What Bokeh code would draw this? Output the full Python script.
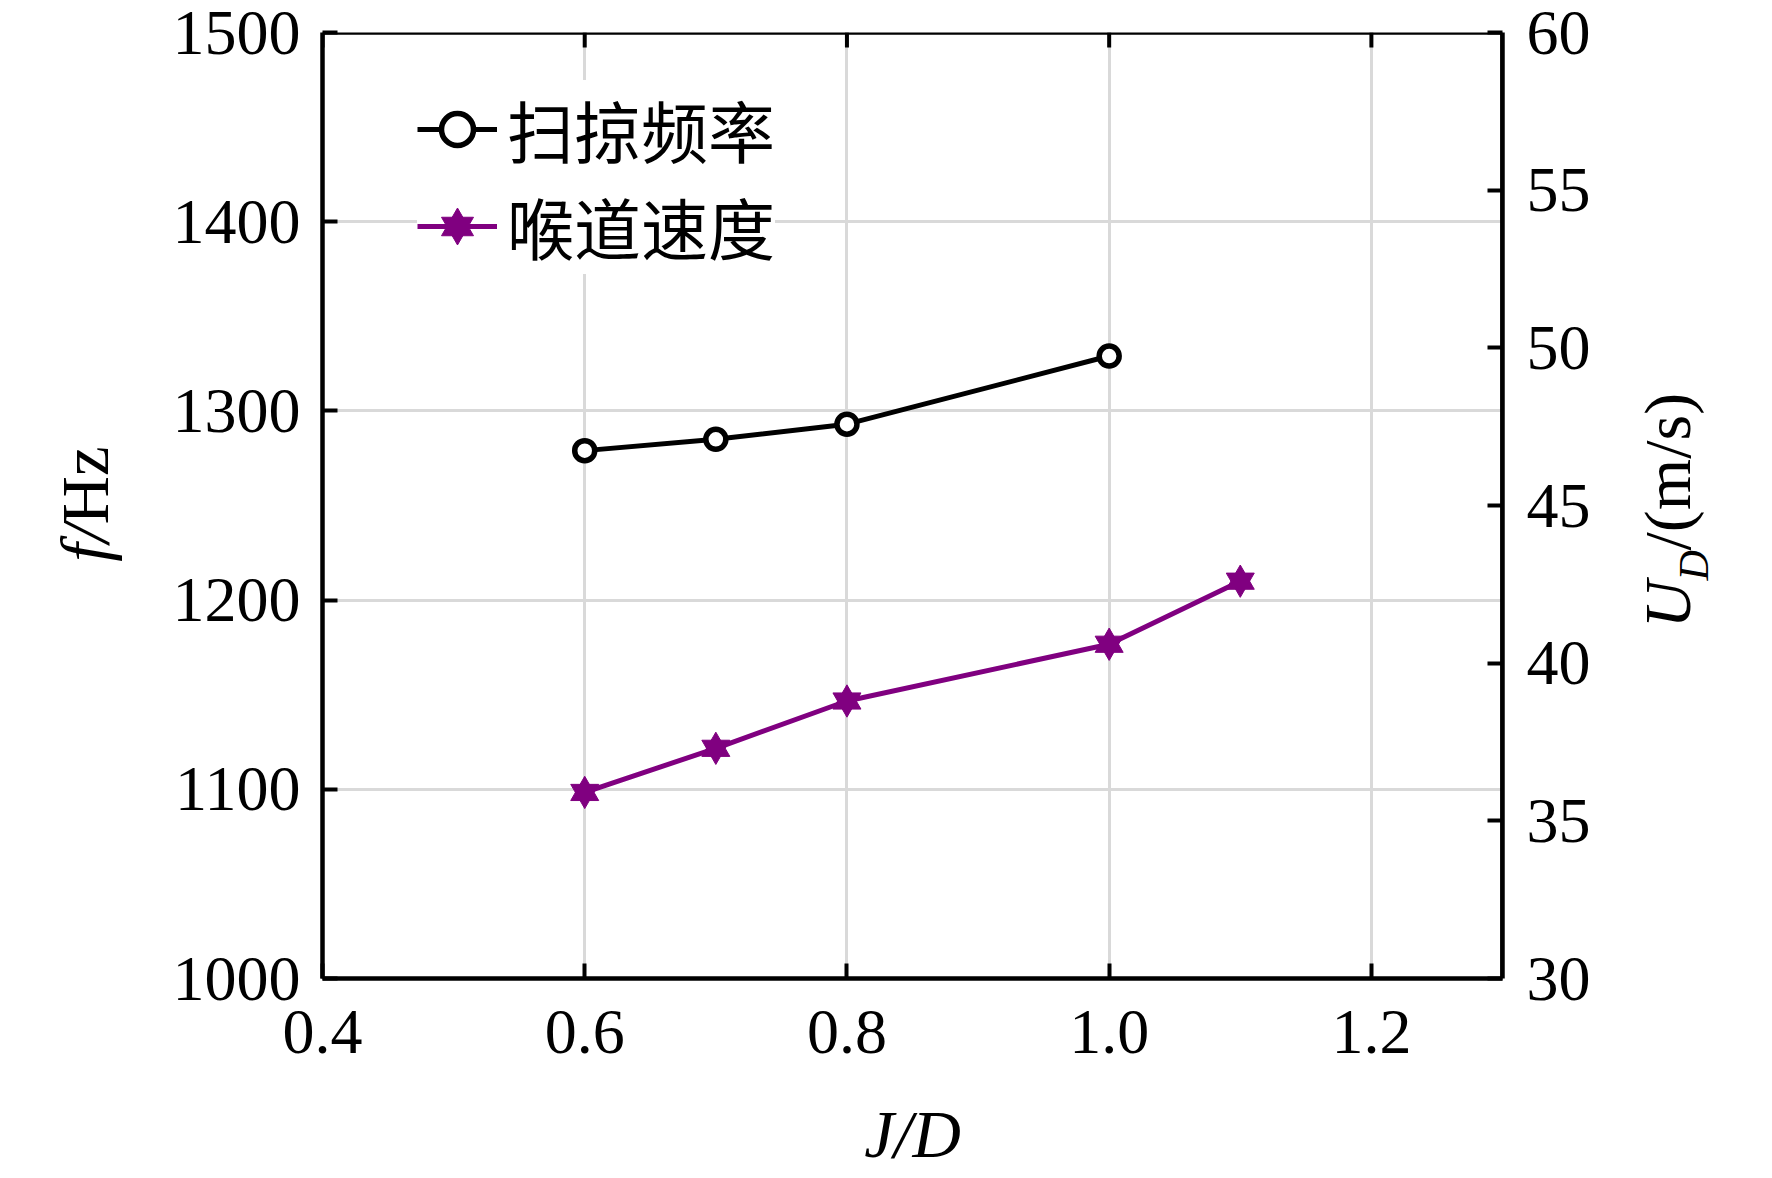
from math import pi
from bokeh.plotting import figure
from bokeh.models import (LinearAxis, Range1d, FixedTicker, Label, Legend, Grid,
                          LegendItem, NumeralTickFormatter)
from bokeh.embed import file_html
from bokeh.resources import INLINE
from bokeh.core.properties import value

# ---- data ----
jd_freq = [0.6, 0.7, 0.8, 1.0]
sweep_freq = [1279, 1285, 1293, 1329]
jd_vel = [0.6, 0.7, 0.8, 1.0, 1.1]
throat_vel = [35.9, 37.3, 38.8, 40.6, 42.6]
x_ticks = [0.4, 0.6, 0.8, 1.0, 1.2]
y_ticks = [1000, 1100, 1200, 1300, 1400, 1500]
y2_ticks = [30, 35, 40, 45, 50, 55, 60]
legend_labels = ["扫掠频率", "喉道速度"]

SERIF = "Liberation Serif"
CJK = "Noto Sans CJK SC"
PURPLE = "#800080"
GRID = "#d9d9d9"

X0, X1, Y0, Y1 = 0.4, 1.3, 1000, 1500
FW, FH = 1180, 946

p = figure(frame_width=FW, frame_height=FH,
           x_range=Range1d(X0, X1), y_range=Range1d(Y0, Y1),
           output_backend="svg", toolbar_location=None,
           min_border_left=322, min_border_right=262,
           min_border_top=32, min_border_bottom=190,
           x_axis_type=None, y_axis_type=None)
p.extra_y_ranges = {"vel": Range1d(30, 60)}
p.outline_line_color = None
p.background_fill_color = "white"
p.border_fill_color = "white"


def style_axis(ax, ticks, standoff):
    ax.ticker = FixedTicker(ticks=ticks)
    ax.axis_line_width = 4.5
    ax.axis_line_color = "black"
    ax.major_tick_line_width = 4
    ax.major_tick_line_color = "black"
    ax.major_tick_in = 15
    ax.major_tick_out = 0
    ax.minor_tick_line_color = None
    ax.major_label_text_font = SERIF
    ax.major_label_text_color = "black"
    ax.major_label_text_font_size = "64px"
    ax.major_label_standoff = standoff


xb = LinearAxis(formatter=NumeralTickFormatter(format="0.0"))
style_axis(xb, x_ticks, 32)
xb.axis_label = "J/D"
xb.axis_label_text_font = SERIF
xb.axis_label_text_font_size = "67px"
xb.axis_label_text_font_style = "italic"
xb.axis_label_text_color = "black"
xb.axis_label_standoff = 41
p.add_layout(xb, "below")

yl = LinearAxis()
style_axis(yl, y_ticks, 22)
p.add_layout(yl, "left")

yr = LinearAxis(y_range_name="vel")
style_axis(yr, y2_ticks, 24)
p.add_layout(yr, "right")

p.add_layout(Grid(dimension=0, ticker=FixedTicker(ticks=x_ticks),
                  grid_line_color=GRID, grid_line_width=3))
p.add_layout(Grid(dimension=1, ticker=FixedTicker(ticks=y_ticks),
                  grid_line_color=GRID, grid_line_width=3))

# frame top and right edges, with inward ticks on top
p.ray(x=x_ticks, y=[Y1] * len(x_ticks), length=15, length_units="screen",
      angle=-pi / 2, line_color="black", line_width=4)
p.line(x=[X0, X1, X1], y=[Y1, Y1, Y0], line_color="black", line_width=4.5)

# ---- series ----
l1 = p.line(jd_freq, sweep_freq, line_color="black", line_width=5)
c1 = p.scatter(jd_freq, sweep_freq, marker="circle", size=20,
               line_color="black", line_width=5.5, fill_color="white")

l2 = p.line(jd_vel, throat_vel, y_range_name="vel", line_color=PURPLE, line_width=5)
t1 = p.scatter(jd_vel, throat_vel, y_range_name="vel", marker="triangle", size=28,
               line_color=PURPLE, fill_color=PURPLE, line_width=1)
t2 = p.scatter(jd_vel, throat_vel, y_range_name="vel", marker="inverted_triangle", size=28,
               line_color=PURPLE, fill_color=PURPLE, line_width=1)

legend = Legend(items=[LegendItem(label=value(legend_labels[0]), renderers=[l1, c1]),
                       LegendItem(label=value(legend_labels[1]), renderers=[l2, t1, t2])],
                location=(95, 704), background_fill_color="white", background_fill_alpha=1.0,
                border_line_color=None, label_text_font=CJK, label_text_font_size="67px",
                label_text_color="black",
                glyph_width=80, glyph_height=80, label_height=80, spacing=-2,
                padding=10, label_standoff=10, margin=0)
p.add_layout(legend)


# ---- axis titles (data-unit positions, placed in side panels) ----
def px_x(page_x):
    return X0 + (page_x - 322) * (X1 - X0) / FW


def px_y(page_y):
    return Y0 + (978 - page_y) * (Y1 - Y0) / FH


def lab(side, px, py, text, size="67px", italic=False, align="center"):
    p.add_layout(Label(x=px_x(px), y=px_y(py), text=text,
                       text_font=SERIF, text_font_size=size,
                       text_font_style="italic" if italic else "normal",
                       text_color="black", angle=pi / 2, text_align=align,
                       text_baseline="middle"), side)


lab("left", 84, 524, "f/", italic=True, align="right")
lab("left", 84, 524, "Hz", align="left")
lab("right", 1667, 580, "U", size="66px", italic=True, align="right")
lab("right", 1693, 580, "D", size="42px", italic=True, align="left")
lab("right", 1667, 550, "/(m/s)", size="66px", align="left")

open("out.html", "w").write(file_html(p, INLINE))
